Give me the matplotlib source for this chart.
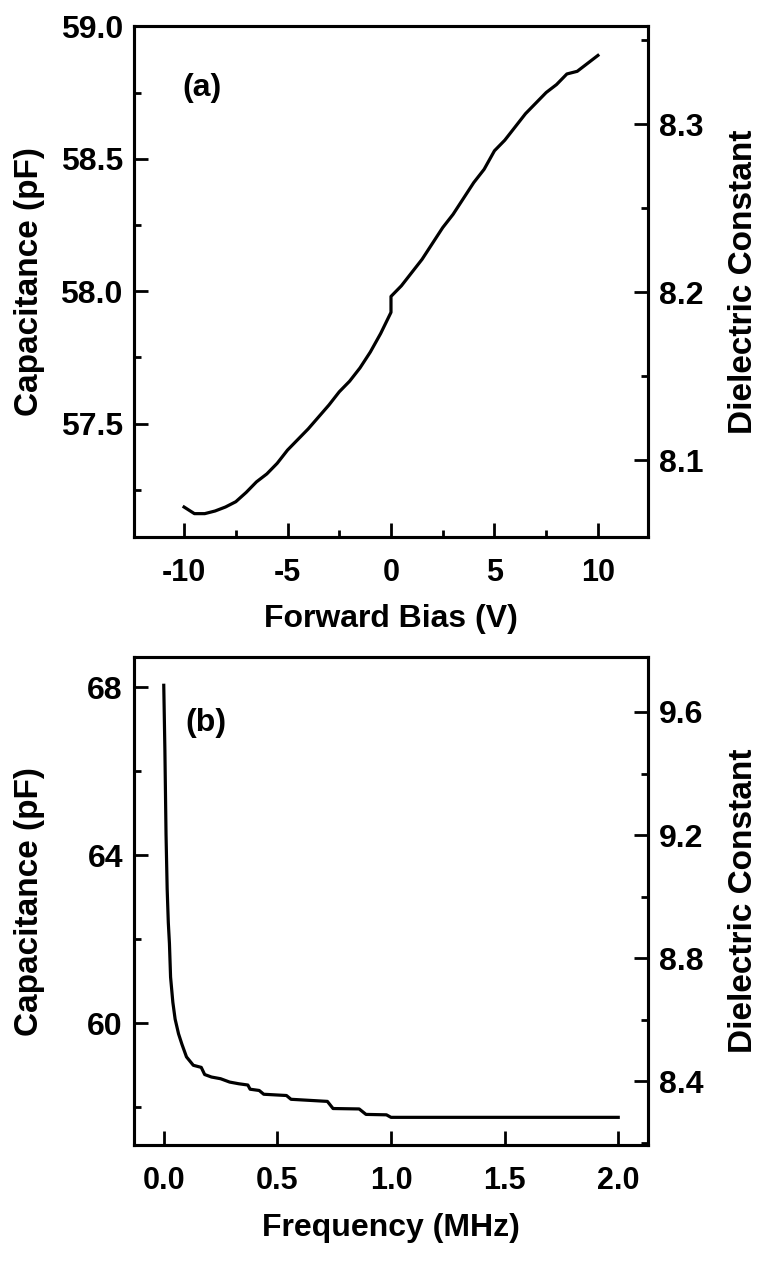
import numpy as np
import matplotlib
matplotlib.use("Agg")
from matplotlib import pyplot as plt
from matplotlib.ticker import MultipleLocator, FormatStrFormatter

plt.rcParams['font.family'] = ['Liberation Sans', 'DejaVu Sans']
plt.rcParams['font.weight'] = 'bold'
plt.rcParams['axes.unicode_minus'] = False

# (a) capacitance vs forward bias
bias = [-10, -9.5, -9, -8.5, -8, -7.5, -7, -6.5, -6, -5.5, -5, -4.5, -4, -3.5, -3,
        -2.5, -2, -1.5, -1, -0.5, 0, 0, 0.5, 1, 1.5, 2, 2.5, 3, 3.5, 4, 4.5, 5,
        5.5, 6, 6.5, 7, 7.5, 8, 8.5, 9, 9.5, 10]
cap_a = [57.185, 57.16, 57.16, 57.17, 57.185, 57.205, 57.24, 57.28, 57.31, 57.35,
         57.40, 57.44, 57.48, 57.525, 57.57, 57.62, 57.66, 57.71, 57.77, 57.84,
         57.92, 57.98, 58.02, 58.07, 58.12, 58.18, 58.24, 58.29, 58.35, 58.41,
         58.46, 58.53, 58.57, 58.62, 58.67, 58.71, 58.75, 58.78, 58.82, 58.83,
         58.86, 58.89]

# (b) capacitance vs frequency
freq = [0.0, 0.005, 0.01, 0.015, 0.02, 0.025, 0.03, 0.04, 0.05, 0.065, 0.08, 0.10,
        0.13, 0.165, 0.18, 0.21, 0.25, 0.29, 0.33, 0.37, 0.38, 0.42, 0.44, 0.54,
        0.56, 0.72, 0.745, 0.86, 0.89, 0.98, 1.0, 1.5, 2.0]
cap_b = [68.05, 66.5, 64.5, 63.2, 62.4, 61.9, 61.1, 60.5, 60.1, 59.75, 59.5, 59.2,
         59.0, 58.95, 58.78, 58.72, 58.68, 58.60, 58.56, 58.53, 58.43, 58.40, 58.31,
         58.28, 58.19, 58.14, 57.97, 57.96, 57.83, 57.82, 57.76, 57.76, 57.76]

fig = plt.figure(figsize=(7.57, 12.64), dpi=100)
ax1 = fig.add_axes([0.177, 0.5752, 0.679, 0.404])
ax2 = fig.add_axes([0.177, 0.0941, 0.679, 0.386])

lw = 2.2
fs_xt = 22
fs_yt = 23
fs_xl = 23
fs_yl = 24


def style(ax):
    for s in ax.spines.values():
        s.set_linewidth(lw)
    ax.tick_params(which='major', direction='in', length=10, width=2, pad=8)
    ax.tick_params(which='minor', direction='in', length=5, width=2)
    ax.tick_params(axis='x', labelsize=fs_xt, pad=15)
    ax.tick_params(axis='y', labelsize=fs_yt)
    for t in ax.get_xticklabels() + ax.get_yticklabels():
        t.set_fontweight('bold')


# panel (a)
ax1.plot(bias, cap_a, color='black', lw=2.3)
ax1.set_xlim(-12.42, 12.42)
ax1.set_ylim(57.072, 59.0)
ax1.xaxis.set_major_locator(MultipleLocator(5))
ax1.xaxis.set_minor_locator(MultipleLocator(2.5))
ax1.yaxis.set_major_locator(MultipleLocator(0.5))
ax1.yaxis.set_minor_locator(MultipleLocator(0.25))
ax1.yaxis.set_major_formatter(FormatStrFormatter('%.1f'))
ax1.set_xlabel('Forward Bias (V)', fontsize=fs_xl, fontweight='bold', labelpad=12)
ax1.set_ylabel('Capacitance (pF)', fontsize=fs_yl, fontweight='bold')
ax1.yaxis.set_label_coords(-0.173, 0.5)
ax1.text(0.095, 0.88, '(a)', transform=ax1.transAxes, fontsize=fs_yt, fontweight='bold', va='center')
style(ax1)
ax1r = ax1.twinx()
ax1r.set_ylim(8.0544, 8.3582)
ax1r.yaxis.set_major_locator(MultipleLocator(0.1))
ax1r.yaxis.set_minor_locator(MultipleLocator(0.05))
ax1r.set_ylabel('Dielectric Constant', fontsize=fs_yl, fontweight='bold')
ax1r.yaxis.set_label_coords(1.155, 0.5)
style(ax1r)

# panel (b)
ax2.plot(freq, cap_b, color='black', lw=2.3)
ax2.set_xlim(-0.131, 2.131)
ax2.set_ylim(57.10, 68.72)
ax2.xaxis.set_major_locator(MultipleLocator(0.5))
ax2.yaxis.set_major_locator(MultipleLocator(4))
ax2.yaxis.set_minor_locator(MultipleLocator(2))
ax2.xaxis.set_major_formatter(FormatStrFormatter('%.1f'))
ax2.set_xlabel('Frequency (MHz)', fontsize=fs_xl, fontweight='bold', labelpad=12)
ax2.set_ylabel('Capacitance (pF)', fontsize=fs_yl, fontweight='bold')
ax2.yaxis.set_label_coords(-0.173, 0.5)
ax2.text(0.10, 0.865, '(b)', transform=ax2.transAxes, fontsize=fs_yt, fontweight='bold', va='center')
style(ax2)
ax2r = ax2.twinx()
ax2r.set_ylim(8.193, 9.778)
ax2r.yaxis.set_major_locator(MultipleLocator(0.4))
ax2r.yaxis.set_minor_locator(MultipleLocator(0.2))
ax2r.set_ylabel('Dielectric Constant', fontsize=fs_yl, fontweight='bold')
ax2r.yaxis.set_label_coords(1.155, 0.5)
style(ax2r)

fig.savefig('out.png', dpi=100)
